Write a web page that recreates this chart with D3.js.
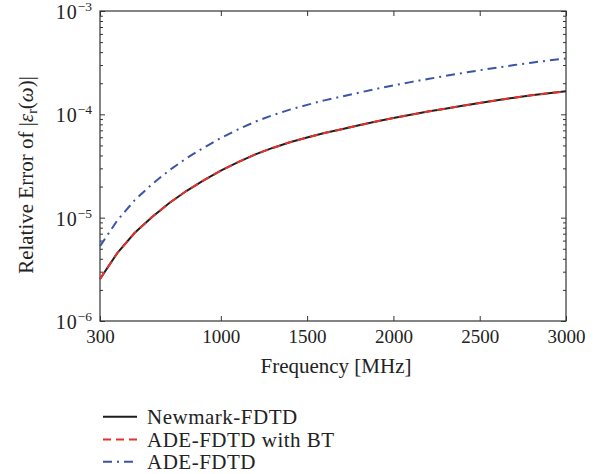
<!DOCTYPE html>
<html>
<head>
<meta charset="utf-8">
<script src="https://cdn.jsdelivr.net/npm/d3@7"></script>
<style>
  body { margin: 0; background: #fff; }
  svg { display: block; }
  text { font-family: "Liberation Serif", "DejaVu Serif", serif; fill: #222; }
</style>
</head>
<body>
<div id="chart"></div>
<script>

// data (frequency in MHz, relative error)
const freq = [300, 400, 500, 600, 700, 800, 900, 1000, 1100, 1200, 1300, 1400, 1500, 1600,
    1700, 1800, 1900, 2000, 2100, 2200, 2300, 2400, 2500, 2600, 2700, 2800, 2900, 3000];

const newmark = [2.55e-6, 4.54e-6, 7.1e-6, 1.01e-5, 1.38e-5, 1.81e-5, 2.29e-5, 2.85e-5, 3.45e-5,
    4.1e-5, 4.73e-5, 5.36e-5, 5.97e-5, 6.6e-5, 7.17e-5, 7.83e-5, 8.53e-5, 9.2e-5, 9.9e-5,
    1.063e-4, 1.135e-4, 1.21e-4, 1.29e-4, 1.367e-4, 1.45e-4, 1.527e-4, 1.6e-4, 1.67e-4];

const adeBT = [2.55e-6, 4.54e-6, 7.1e-6, 1.01e-5, 1.38e-5, 1.81e-5, 2.29e-5, 2.85e-5, 3.45e-5,
    4.1e-5, 4.73e-5, 5.36e-5, 5.97e-5, 6.6e-5, 7.17e-5, 7.83e-5, 8.53e-5, 9.2e-5, 9.9e-5,
    1.063e-4, 1.135e-4, 1.21e-4, 1.29e-4, 1.367e-4, 1.45e-4, 1.527e-4, 1.6e-4, 1.67e-4];

const ade = [5.3e-6, 9.4e-6, 1.47e-5, 2.1e-5, 2.86e-5, 3.75e-5, 4.75e-5, 5.9e-5, 7.15e-5,
    8.5e-5, 9.8e-5, 1.11e-4, 1.235e-4, 1.365e-4, 1.485e-4, 1.62e-4, 1.765e-4, 1.905e-4, 2.05e-4,
    2.2e-4, 2.35e-4, 2.51e-4, 2.67e-4, 2.83e-4, 3.0e-4, 3.16e-4, 3.32e-4, 3.47e-4];

const seriesNames = ['Newmark-FDTD', 'ADE-FDTD with BT', 'ADE-FDTD'];
const xTicks = [300, 1000, 1500, 2000, 2500, 3000];
const yTicks = [1e-6, 1e-5, 1e-4, 1e-3];


const w = 603;
const h = 474;
const m = { l: 100, r: 37, t: 11, b: 153 };

const svg = d3.select('#chart').append('svg').attr('width', w).attr('height', h);
svg.append('rect').attr('width', w).attr('height', h).attr('fill', '#fff');

const x = d3.scaleLinear().domain([300, 3000]).range([m.l, w - m.r]);
const y = d3.scaleLog().domain([1e-6, 1e-3]).range([h - m.b, m.t]);

const minor = y.ticks().filter(d => yTicks.indexOf(d) < 0);

// axes (ticks point inward)

const gx = svg.append('g').attr('transform', `translate(0,${h - m.b})`)
    .call(d3.axisBottom(x).tickValues(xTicks).tickSize(-5).tickSizeOuter(0).tickPadding(9)
        .tickFormat(d3.format('d')));
gx.selectAll('text').attr('font-size', '19px');

svg.append('g').attr('transform', `translate(0,${m.t})`)
    .call(d3.axisTop(x).tickValues(xTicks).tickSize(-5).tickSizeOuter(0).tickFormat(''));

const gy = svg.append('g').attr('transform', `translate(${m.l},0)`)
    .call(d3.axisLeft(y).tickValues(yTicks).tickSize(-5).tickSizeOuter(0).tickPadding(8));

gy.selectAll('.tick text').each(function (d) {
    const t = d3.select(this);
    t.text(null).attr('font-size', '20px').attr('dy', '0.37em');
    t.append('tspan').attr('letter-spacing', '1px').text('10');
    t.append('tspan').attr('dy', -8).attr('font-size', '13.5px')
        .text('\u2212' + Math.abs(Math.round(Math.log10(d))));
});

svg.append('g').attr('transform', `translate(${m.l},0)`)
    .call(d3.axisLeft(y).tickValues(minor).tickSize(-3).tickSizeOuter(0).tickFormat(''));

svg.append('g').attr('transform', `translate(${w - m.r},0)`)
    .call(d3.axisRight(y).tickValues(yTicks).tickSize(-5).tickSizeOuter(0).tickFormat(''));

svg.append('g').attr('transform', `translate(${w - m.r},0)`)
    .call(d3.axisRight(y).tickValues(minor).tickSize(-3).tickSizeOuter(0).tickFormat(''));

svg.selectAll('.domain').remove();
svg.selectAll('.tick line').attr('stroke', '#333');

// frame

svg.append('rect')
    .attr('x', m.l).attr('y', m.t)
    .attr('width', w - m.r - m.l).attr('height', h - m.b - m.t)
    .attr('fill', 'none').attr('stroke', '#333').attr('stroke-width', 1.2);

// curves

const styles = [
    { color: '#1e1e1e', dash: null },
    { color: '#e8312b', dash: '8,5' },
    { color: '#3a55a4', dash: '9,5,2,5' }
];
const series = [newmark, adeBT, ade];

const line = d3.line().x((d, i) => x(freq[i])).y(d => y(d));

series.forEach((s, k) => {
    svg.append('path').datum(s)
        .attr('d', line)
        .attr('fill', 'none')
        .attr('stroke', styles[k].color)
        .attr('stroke-width', 2)
        .attr('stroke-dasharray', styles[k].dash);
});

// axis titles

svg.append('text').attr('x', 336).attr('y', 373).attr('text-anchor', 'middle')
    .attr('font-size', '21px').text('Frequency [MHz]');

const yt = svg.append('text').attr('transform', 'translate(33,175) rotate(-90)')
    .attr('text-anchor', 'middle').attr('font-size', '21px');
yt.append('tspan').text('Relative Error of |');
yt.append('tspan').attr('font-style', 'italic').text('\u03b5');
yt.append('tspan').attr('font-size', '14px').attr('dy', 4).text('r');
yt.append('tspan').attr('dy', -4).text('(');
yt.append('tspan').attr('font-style', 'italic').text('\u03c9');
yt.append('tspan').text(')|');

// legend

const legend = svg.append('g').attr('id', 'legend');
const rowY = [416.7, 439.5, 461.7];

seriesNames.forEach((name, k) => {
    legend.append('line')
        .attr('x1', 103).attr('x2', 137)
        .attr('y1', rowY[k]).attr('y2', rowY[k])
        .attr('stroke', styles[k].color).attr('stroke-width', 2)
        .attr('stroke-dasharray', styles[k].dash);
    legend.append('text').attr('x', 147).attr('y', rowY[k] + 7)
        .attr('font-size', '21px').attr('letter-spacing', '0.5px').text(name);
});

</script>
</body>
</html>
